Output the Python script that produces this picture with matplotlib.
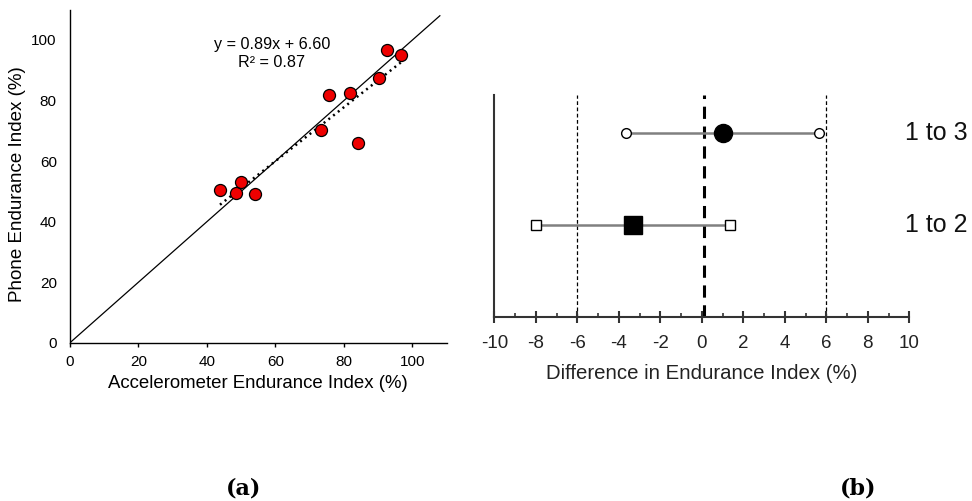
import matplotlib
matplotlib.use("Agg")
import matplotlib.pyplot as plt
import numpy as np

plt.rcParams['font.family'] = ['Liberation Sans', 'DejaVu Sans']
plt.rcParams['axes.unicode_minus'] = False

# ---- Panel (a) data ----
accel = [43.8, 48.4, 50.0, 53.9, 73.3, 75.7, 81.7, 84.2, 90.1, 92.7, 96.8]
phone = [50.5, 49.6, 53.0, 49.1, 70.3, 81.7, 82.6, 65.9, 87.4, 96.7, 94.9]
slope, intercept = 0.89, 6.60
r2 = 0.87
a_ticks = [0, 20, 40, 60, 80, 100]

# ---- Panel (b) data ----
comparisons = ["1 to 2", "1 to 3"]
mean_diff = [-3.30, 1.04]
lower_ci = [-7.97, -3.67]
upper_ci = [1.34, 5.65]
limits = [-6, 6]
zero_line = 0.1
b_ticks = list(range(-10, 11, 2))

W, H = 972, 501
fig = plt.figure(figsize=(W / 100, H / 100), dpi=100)

def px_axes(x0, y0, x1, y1):
    return fig.add_axes([x0 / W, 1 - y1 / H, (x1 - x0) / W, (y1 - y0) / H])

# ---------- Panel (a) ----------
axa = px_axes(70, 9.7, 446.7, 342.7)
axa.set_xlim(0, 110)
axa.set_ylim(0, 110)
axa.plot([0, 108], [0, 108], color='black', lw=0.9, zorder=1)
xs = np.array([min(accel), max(accel)])
axa.plot(xs, slope * xs + intercept, color='black', lw=1.8, ls=(0, (0.8, 1.6)), zorder=2)
axa.scatter(accel, phone, s=75, color='#ee0000', edgecolor='black', linewidth=0.9, zorder=3)
for side in ['top', 'right']:
    axa.spines[side].set_visible(False)
for side in ['left', 'bottom']:
    axa.spines[side].set_linewidth(1.0)
axa.set_xticks(a_ticks)
axa.set_yticks(a_ticks)
axa.tick_params(axis='x', length=3, width=1, labelsize=11, pad=6, colors='black')
axa.tick_params(axis='y', length=0, labelsize=11, pad=9.5)
axa.set_xlabel('Accelerometer Endurance Index (%)', fontsize=13.4, labelpad=4.5)
axa.set_ylabel('Phone Endurance Index (%)', fontsize=13.5, va='center')
axa.yaxis.set_label_coords((18 - 70) / 376.7, (342.7 - 184) / 333)
axa.text(59, 98.5, f'y = {slope:.2f}x + {intercept:.2f}', ha='center', va='center', fontsize=11.6)
axa.text(59, 92.5, f'R² = {r2:.2f}', ha='center', va='center', fontsize=11.6)

# ---------- Panel (b) ----------
axb = px_axes(494.3, 95, 909.3, 316.7)
axb.set_xlim(-10, 10)
axb.set_ylim(0, 2.42)
ypos = [1, 2]
grey = '#808080'
for i, y in enumerate(ypos):
    axb.plot([lower_ci[i], upper_ci[i]], [y, y], color=grey, lw=1.8, zorder=2)
    m = 's' if i == 0 else 'o'
    axb.plot([lower_ci[i], upper_ci[i]], [y, y], ls='none', marker=m, ms=7,
             mfc='white', mec='black', mew=1.0, zorder=3)
    axb.plot([mean_diff[i]], [y], ls='none', marker=m, ms=13,
             mfc='black', mec='black', zorder=4)
    axb.text(0.99, y / 2.42, comparisons[i], transform=axb.transAxes,
             ha='left', va='center', fontsize=18, color='#111111')
axb.axvline(zero_line, color='black', lw=2.2, ls=(0, (4, 2.5)), zorder=1)
for l in limits:
    axb.axvline(l, color='black', lw=0.9, ls=(0, (3, 2)), zorder=1)
for side in ['top', 'right']:
    axb.spines[side].set_visible(False)
for side in ['left', 'bottom']:
    axb.spines[side].set_linewidth(1.5)
    axb.spines[side].set_color('#333333')
axb.set_yticks([])
axb.set_xticks(b_ticks)
axb.set_xticks(range(-9, 10, 2), minor=True)
axb.tick_params(axis='x', which='major', direction='inout', length=8, width=1.5,
                color='#333333', labelsize=13.5, pad=9, labelcolor='#222222')
axb.tick_params(axis='x', which='minor', direction='in', length=3, width=1.2, color='#333333')
axb.set_xlabel('Difference in Endurance Index (%)', fontsize=14.7, color='#222222', labelpad=9)

# ---------- captions ----------
fig.text(244 / W, 1 - 488 / H, '(a)', ha='center', va='center', fontsize=16,
         fontweight='bold', family=['DejaVu Serif'])
fig.text(858 / W, 1 - 488 / H, '(b)', ha='center', va='center', fontsize=16,
         fontweight='bold', family=['DejaVu Serif'])

fig.savefig('out.png', dpi=100)
